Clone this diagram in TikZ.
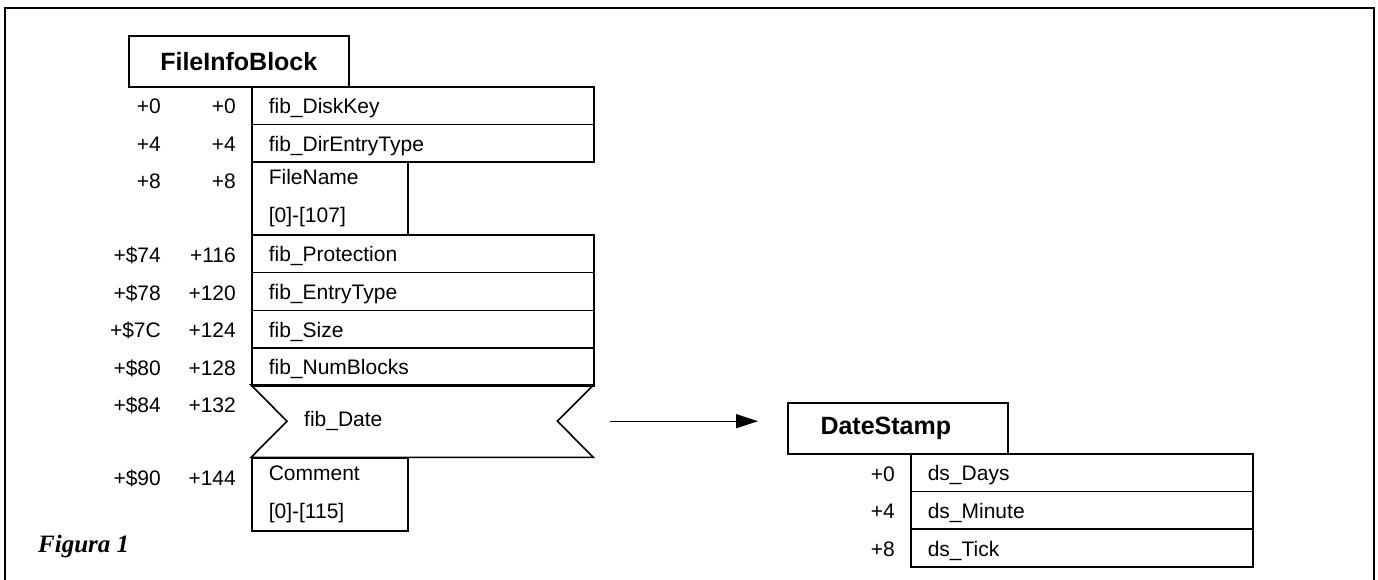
\documentclass[tikz,border=0pt]{standalone}
\usepackage{fontspec}
\setmainfont{Liberation Sans}
\newfontfamily\figfont{Liberation Serif}
\usetikzlibrary{arrows.meta}

\begin{document}
\begin{tikzpicture}[x=1pt,y=-1pt,
    box/.style={draw, line width=1.6pt, anchor=north west, align=left, inner xsep=17pt, inner ysep=0pt, font=\fontsize{21}{37.5}\selectfont},
    field/.style={box, text width=308pt, minimum height=37.75pt, text height=16pt, text depth=0pt},
    title/.style={draw, line width=1.6pt, anchor=north west, minimum width=220pt, minimum height=51pt, inner sep=0pt, font=\fontsize{25}{30}\selectfont\bfseries},
    offset/.style={anchor=east, inner sep=0pt, text height=18pt, text depth=0pt, font=\fontsize{21}{25}\selectfont}]
    \useasboundingbox (0,0) rectangle (1378,580);

    % frame
    \draw[line width=1.4pt] (5,580) -- (5,8) -- (1374,8) -- (1374,580);

    % FileInfoBlock
    \node[title] (fibtitle) at (128,35) {FileInfoBlock};
    \foreach \yy/\nm/\txt in {86/diskkey/fib\_DiskKey, 123.75/direntry/fib\_DirEntryType,
        234/protect/fib\_Protection, 271.75/entrytype/fib\_EntryType,
        309.5/size/fib\_Size, 347.25/numblocks/fib\_NumBlocks}
        \node[field] (\nm) at (251,\yy) {\txt};
    \node[box, text width=122pt, minimum height=73pt] (filename) at (251,161) {FileName\\{[0]-[107]}};

    % fib_Date bow shape
    \node[anchor=north west, minimum width=342pt, minimum height=72pt, inner xsep=53pt, text width=236pt,
        align=left, font=\fontsize{21}{25}\selectfont] (date) at (251,385) {fib\_Date};
    \draw[line width=1.6pt] (date.north west) -- (date.north east) -- ([xshift=-36pt]date.east)
        -- (date.south east) -- (date.south west) -- ([xshift=36pt]date.west) -- cycle;

    \node[box, text width=122pt, minimum height=73pt] (comment) at (251,457) {Comment\\{[0]-[115]}};

    % offsets
    \foreach \yy/\hx/\dc [count=\i] in {104.5/+0/+0, 142.5/+4/+4, 179.5/+8/+8, 253/+\$74/+116,
        291/+\$78/+120, 328.5/+\$7C/+124, 366/+\$80/+128, 403.5/+\$84/+132, 476/+\$90/+144} {
        \node[offset] (hex\i) at (161,\yy) {\hx};
        \node[offset] (dec\i) at (236,\yy) {\dc};
    }

    % DateStamp
    \node[title] (dstitle) at (787,402) {\hspace*{-24pt}DateStamp};
    \foreach \yy/\nm/\txt in {453/days/ds\_Days, 490.67/minute/ds\_Minute, 528.33/tick/ds\_Tick}
        \node[field] (\nm) at (910,\yy) {\txt};
    \foreach \yy/\dc [count=\i] in {472/+0, 509.5/+4, 547/+8}
        \node[offset] (ds\i) at (895,\yy) {\dc};

    % pointer
    \draw[line width=1.4pt, -{Triangle[length=22pt,width=14pt]}, shorten <=17pt, shorten >=29pt]
        (date.east) -- (date.east -| dstitle.west);

    \node[anchor=west, inner sep=0pt, font=\fontsize{25}{30}\figfont\bfseries\itshape] (fig) at (38,546) {Figura 1};
\end{tikzpicture}
\end{document}
